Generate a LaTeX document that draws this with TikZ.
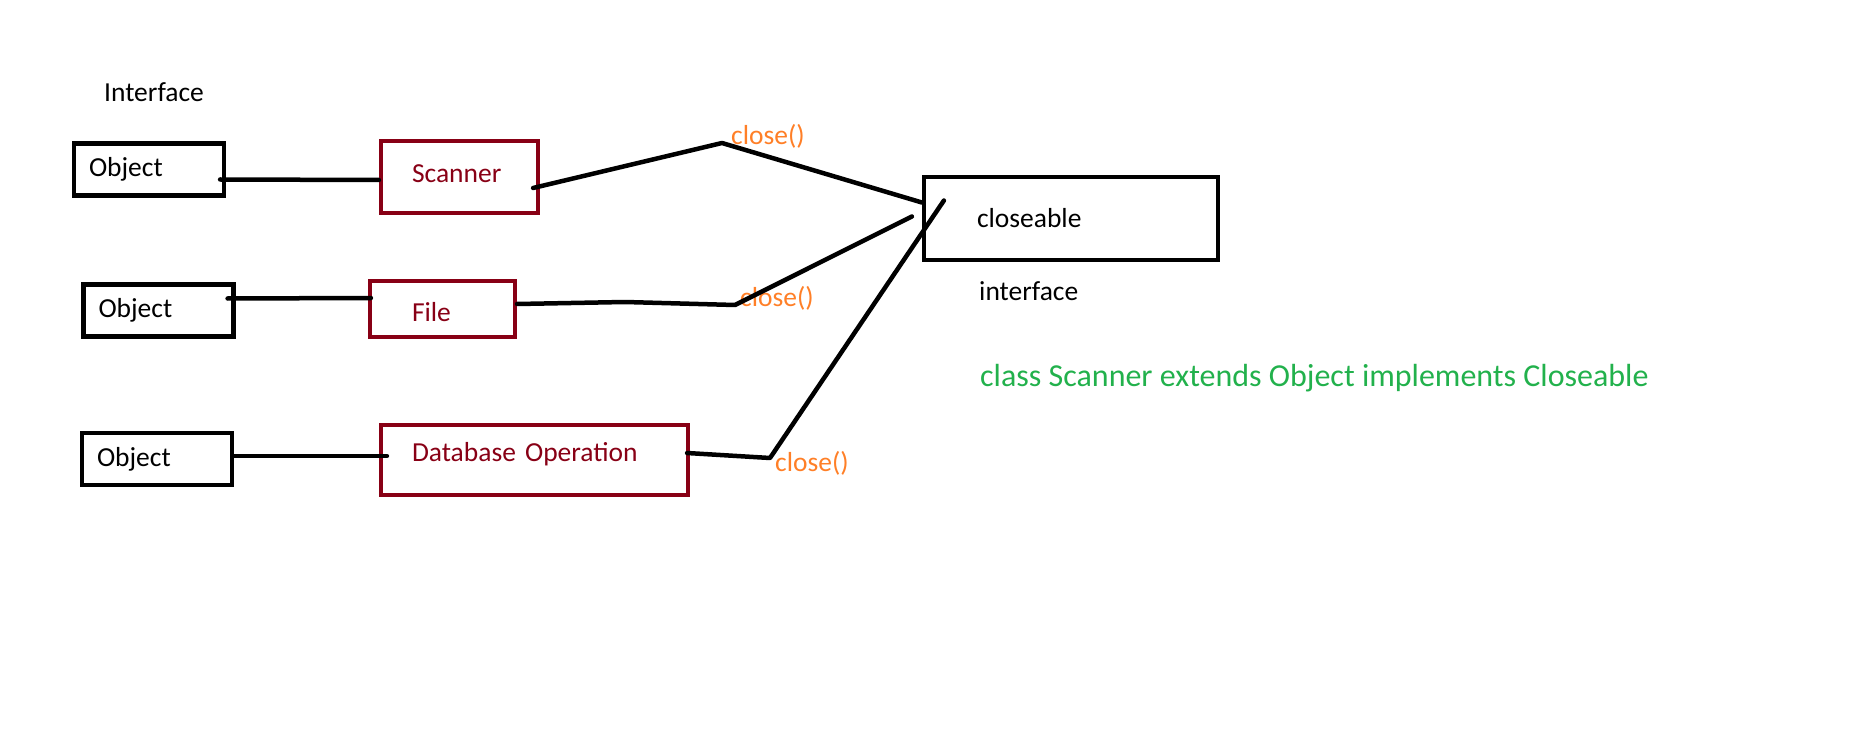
\documentclass[tikz,border=0pt]{standalone}
\usepackage{fontspec}
\setmainfont{Carlito}
\usepackage{xcolor}
\usetikzlibrary{calc}

\definecolor{boxred}{RGB}{136,0,21}
\definecolor{callorange}{RGB}{255,127,39}
\definecolor{notegreen}{RGB}{34,177,76}

\begin{document}
\begin{tikzpicture}[
        x=1pt, y=-1pt,
        every node/.style={font=\fontsize{27.5}{33}\selectfont},
        objbox/.style={draw, line width=4.2pt, align=left, inner xsep=15pt, text width=120pt, minimum height=52pt},
        classbox/.style={draw=boxred, text=boxred, line width=4.2pt, align=left, inner xsep=31pt},
        ifacebox/.style={draw, line width=4.2pt, align=left, inner xsep=53pt, text width=188pt, minimum height=83pt},
        method/.style={text=callorange, anchor=west, inner sep=0pt},
        plain/.style={inner sep=0pt},
        wire/.style={line width=4.5pt, line cap=round, line join=round}
    ]
    \useasboundingbox (0,0) rectangle (1852,743);

    % super classes
    \node[plain] (ifacetitle) at (154,92) {Interface};
    \node[objbox] (obj1) at (149,169.5) {Object};
    \node[objbox] (obj2) at (158.5,310.5) {Object};
    \node[objbox] (obj3) at (157,459) {Object};

    % classes
    \node[classbox, text width=95pt, text depth=7pt, minimum height=72pt] (scan) at (459.5,177) {Scanner};
    \node[classbox, inner xsep=42pt, text width=61pt, text height=26pt, minimum height=56pt] (file) at (442.5,309) {File};
    \node[classbox, text width=245pt, text depth=17pt, minimum height=70pt] (db) at (534.5,460) {Database Operation};

    % interface
    \node[ifacebox] (close) at (1071,218.5) {closeable};
    \node[plain, anchor=west] (ifacenote) at (979,291) {interface};
    \node[plain, anchor=west, text=notegreen, font=\fontsize{32}{38}\selectfont] (rule) at (980,378) {class Scanner extends Object implements Closeable};

    % bends of the close() links
    \coordinate (kScan) at (722,143);
    \coordinate (kFileA) at (625,302);
    \coordinate (kFile) at (735,305);
    \coordinate (kDb) at (770,458);

    % close() labels
    \node[method] (m1) at (731,136) {close()};
    \node[method] (m2) at (740,298) {close()};
    \node[method] (m3) at (775,463) {close()};

    % extends links
    \draw[wire] ([xshift=-6pt,yshift=-10pt]obj1.east) -- ([yshift=-3pt]scan.west);
    \draw[wire] ([xshift=-8pt,yshift=12pt]obj2.east) -- ([xshift=3pt,yshift=11pt]file.west);
    \draw[wire] ([yshift=3pt]obj3.east) -- ([xshift=8pt,yshift=4pt]db.west);

    % implements links
    \draw[wire] ([xshift=-7pt,yshift=-11pt]scan.east) -- (kScan) -- ([yshift=16pt]close.west);
    \draw[wire] ([yshift=5pt]file.east) -- (kFileA) -- (kFile) -- ([xshift=-10pt,yshift=2pt]close.west);
    \draw[wire] ([xshift=-3pt,yshift=7pt]db.east) -- (kDb) -- ([xshift=22pt,yshift=18pt]close.west);

\end{tikzpicture}
\end{document}
